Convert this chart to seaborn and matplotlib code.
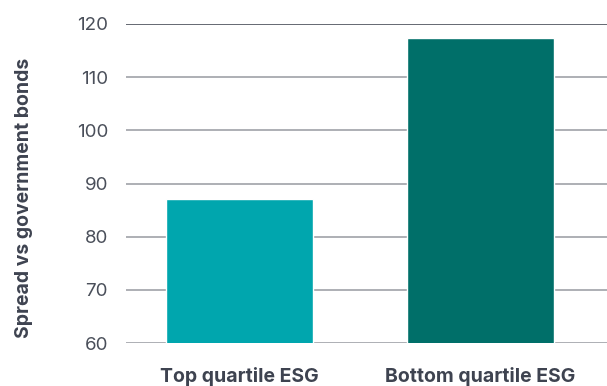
import matplotlib
matplotlib.use("Agg")
import matplotlib.pyplot as plt
import seaborn as sns
import pandas as pd

categories = ["Top quartile ESG", "Bottom quartile ESG"]
values = [87.1, 117.3]
colors = ["#00A6AE", "#006F69"]
yticks = [60, 70, 80, 90, 100, 110, 120]

sns.set_theme(style="white")
plt.rcParams['font.family'] = ['Inter', 'DejaVu Sans']

df = pd.DataFrame({"cat": categories, "val": values})

fig = plt.figure(figsize=(6.07, 3.86), dpi=100)
ax = fig.add_axes([126/607, 1-343/386, 1-126/607, (343-24)/386])

for y in yticks:
    ax.axhline(y, color="#4a4f5a" if y == 120 else "#a0a2a8", lw=1.2, zorder=0)

sns.barplot(data=df, x="cat", y="val", hue="cat", palette=colors, width=0.61,
            ax=ax, legend=False, zorder=2, saturation=1)

ax.set_ylim(60, 120)
ax.set_xlim(-0.471, 1.525)
ax.set_yticks(yticks)
ax.set_yticklabels([str(t) for t in yticks], fontsize=13.5, color="#4a4f5a")
ax.set_xticks([0, 1])
ax.set_xticklabels(categories, fontsize=14, fontweight="bold", color="#3e4350")
ax.tick_params(axis="y", length=0, pad=13)
ax.tick_params(axis="x", length=0, pad=17)
ax.set_xlabel("")
ax.set_ylabel("Spread vs government bonds", fontsize=14, fontweight="bold", color="#3e4350")
ax.yaxis.set_label_coords(-(126 - 33) / 481, 0.455)
for s in ax.spines.values():
    s.set_visible(False)

fig.savefig("out.png", dpi=100)
